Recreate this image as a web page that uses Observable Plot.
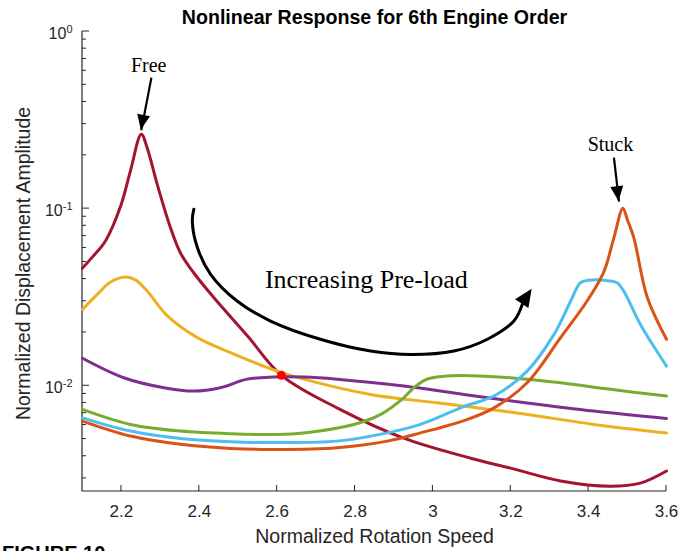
<!DOCTYPE html>
<html><head><meta charset="utf-8">
<script src="https://cdn.jsdelivr.net/npm/d3@7"></script>
<script src="https://cdn.jsdelivr.net/npm/@observablehq/plot@0.6"></script>
<style>
html,body{margin:0;padding:0;overflow:hidden;background:#fff;width:691px;height:551px}
#wrap{position:relative;width:691px;height:551px}
#fig{position:absolute;left:2px;top:543px;font:bold 20px "Liberation Sans",Arial,sans-serif;color:#000;line-height:20px;white-space:nowrap}
</style></head><body><div id="wrap"></div>
<script>
// ---- axis definitions ----
const xDomain = [2.1, 3.6];
const yDomain = [0.00253, 1];
const xTicks = [2.2, 2.4, 2.6, 2.8, 3, 3.2, 3.4, 3.6];
const yMajorTicks = [0.01, 0.1, 1];
const yTickExponents = ["-2", "-1", "0"];
const yMinorTicks = [0.003,0.004,0.005,0.006,0.007,0.008,0.009,
                     0.02,0.03,0.04,0.05,0.06,0.07,0.08,0.09,
                     0.2,0.3,0.4,0.5,0.6,0.7,0.8,0.9];

// ---- series (pre-load cases) ----
const seriesNames = ["Free", "Pre-load 1", "Pre-load 2", "Pre-load 3", "Pre-load 4", "Stuck"];
const seriesColors = ["#A2142F", "#EDB120", "#7E2F8E", "#77AC30", "#4DBEEE", "#D95319"];

const freeX = [2.100,2.128,2.159,2.198,2.223,2.251,2.266,2.292,2.326,2.352,2.385,2.436,2.524,2.611,2.755,2.925,3.097,3.199,3.328,3.456,3.533,3.600];
const freeY = [0.0462,0.0541,0.0657,0.1035,0.163,0.263,0.221,0.137,0.078,0.0560,0.0436,0.0317,0.0191,0.01145,0.00748,0.00506,0.0039,0.00343,0.0029,0.00271,0.00282,0.0033];

const pl1X = [2.100,2.138,2.172,2.210,2.236,2.266,2.318,2.395,2.480,2.600,2.668,2.840,3.011,3.097,3.242,3.413,3.600];
const pl1Y = [0.0270,0.0328,0.0385,0.0411,0.0396,0.0343,0.0248,0.0187,0.0154,0.0121,0.0109,0.00893,0.00801,0.00758,0.00689,0.00605,0.00542];

const pl2X = [2.100,2.206,2.309,2.386,2.454,2.523,2.591,2.668,2.754,2.925,3.084,3.242,3.413,3.600];
const pl2Y = [0.0143,0.0111,0.00975,0.00933,0.00975,0.0109,0.0112,0.0112,0.0109,0.00996,0.0089,0.0080,0.0072,0.00654];

const pl3X = [2.100,2.223,2.352,2.480,2.600,2.668,2.797,2.866,2.925,2.951,2.985,3.037,3.097,3.199,3.328,3.456,3.600];
const pl3Y = [0.00736,0.00605,0.00555,0.00536,0.00531,0.00542,0.00605,0.0069,0.00855,0.00975,0.0109,0.01135,0.0114,0.0111,0.0104,0.00955,0.00875];

const pl4X = [2.100,2.223,2.352,2.480,2.600,2.754,2.883,2.968,3.084,3.157,3.242,3.311,3.354,3.379,3.400,3.450,3.473,3.490,3.533,3.600];
const pl4Y = [0.00659,0.00555,0.00504,0.00483,0.00478,0.00487,0.00542,0.00605,0.0077,0.00875,0.0121,0.0195,0.0301,0.0382,0.0394,0.0392,0.0382,0.0343,0.0222,0.0129];

const stuckX = [2.100,2.223,2.352,2.480,2.600,2.754,2.883,2.968,3.084,3.157,3.242,3.328,3.396,3.439,3.465,3.488,3.500,3.516,3.551,3.600];
const stuckY = [0.00632,0.0052,0.00467,0.00443,0.00437,0.00447,0.00487,0.00542,0.0064,0.0075,0.0104,0.0187,0.0301,0.044,0.0686,0.1005,0.086,0.0686,0.0314,0.0183];

// ---- marker & annotations ----
const markerX = [2.611], markerY = [0.01145];
const labelTexts = ["Free", "Stuck", "Increasing Pre-load"];
const labelX = [2.270, 3.456, 2.829];
const labelY = [0.640, 0.231, 0.0396];
const labelSizes = [20, 20, 26];
// straight arrows (Free, Stuck) and head of the curved arrow
const arrowFromX = [2.277, 3.465, 3.230];
const arrowFromY = [0.549, 0.194, 0.0290];
const arrowTipX = [2.251, 3.478, 3.255];
const arrowTipY = [0.277, 0.1096, 0.0351];
const headLen = [15, 15, 18], headWid = [13, 13, 16];
// curved "increasing pre-load" path
const curveX = [2.386,2.382,2.395,2.429,2.497,2.583,2.711,2.840,2.943,3.054,3.140,3.208,3.230];
const curveY = [0.0993,0.0853,0.0603,0.0426,0.0301,0.0232,0.0183,0.0157,0.0150,0.0157,0.0183,0.0232,0.0290];

const titleText = "Nonlinear Response for 6th Engine Order";
const xLabel = "Normalized Rotation Speed";
const yLabel = "Normalized Displacement Amplitude";

// ---- build tables ----
const seriesXs = [freeX, pl1X, pl2X, pl3X, pl4X, stuckX];
const seriesYs = [freeY, pl1Y, pl2Y, pl3Y, pl4Y, stuckY];
const table = seriesNames.flatMap((s, i) => seriesXs[i].map((x, j) => ({series: s, x, y: seriesYs[i][j]})));
const curveData = curveX.map((x, i) => ({x, y: curveY[i]}));
const axisColor = "#262626";
const sans = "Liberation Sans, Arial, sans-serif";
const serif = "Liberation Serif, Times New Roman, serif";

function axisFrame(index, scales, values, dims) {
  const {x, y} = scales;
  const x0 = dims.marginLeft, x1 = dims.width - dims.marginRight;
  const y0 = dims.marginTop, y1 = dims.height - dims.marginBottom;
  const g = d3.create("svg:g").attr("stroke", axisColor).attr("fill", "none");
  g.append("path").attr("d", `M${x0},${y0}V${y1}H${x1}`).attr("stroke-width", 1.2);
  for (const t of xTicks) g.append("line").attr("x1", x(t)).attr("x2", x(t)).attr("y1", y1).attr("y2", y1 - 6);
  for (const t of yMajorTicks) g.append("line").attr("x1", x0).attr("x2", x0 + 7).attr("y1", y(t)).attr("y2", y(t));
  for (const t of yMinorTicks) g.append("line").attr("x1", x0).attr("x2", x0 + 4).attr("y1", y(t)).attr("y2", y(t));
  return g.node();
}

function arrowHeads(index, scales) {
  const {x, y} = scales;
  const g = d3.create("svg:g").attr("fill", "black");
  arrowTipX.forEach((tx, i) => {
    const px = x(tx), py = y(arrowTipY[i]);
    const fx = x(arrowFromX[i]), fy = y(arrowFromY[i]);
    const dx = px - fx, dy = py - fy, L = Math.hypot(dx, dy);
    const ux = dx / L, uy = dy / L;
    const bx = px - ux * headLen[i], by = py - uy * headLen[i];
    const w = headWid[i] / 2;
    g.append("path").attr("d", `M${px},${py}L${bx - uy * w},${by + ux * w}L${bx + uy * w},${by - ux * w}Z`);
  });
  return g.node();
}

const plot = Plot.plot({
  width: 691, height: 551,
  marginLeft: 82, marginRight: 25, marginTop: 31, marginBottom: 60,
  style: {fontFamily: sans, color: axisColor, background: "white", overflow: "visible"},
  x: {domain: xDomain, label: null},
  y: {type: "log", domain: yDomain, label: null},
  color: {domain: seriesNames, range: seriesColors},
  marks: [
    axisFrame,
    Plot.axisX(xTicks, {tickSize: 0, tickPadding: 13, fontSize: 17, tickFormat: d => String(d)}),
    Plot.axisY(yMajorTicks, {tickSize: 0, tickPadding: 10, fontSize: 16, tickFormat: () => "10", dy: 2}),
    Plot.line(table, {x: "x", y: "y", z: "series", stroke: "series", curve: "catmull-rom", strokeWidth: 3}),
    Plot.dot(markerX, {x: d => d, y: (d, i) => markerY[i], r: 4.5, fill: "#FF0000", stroke: "none"}),
    Plot.line(curveData, {x: "x", y: "y", stroke: "black", strokeWidth: 3, curve: "catmull-rom"}),
    Plot.link([0, 1], {x1: i => arrowFromX[i], y1: i => arrowFromY[i], x2: i => arrowTipX[i], y2: i => arrowTipY[i], stroke: "black", strokeWidth: 2.2}),
    arrowHeads,
    Plot.text(labelTexts, {x: (d, i) => labelX[i], y: (d, i) => labelY[i], text: d => d, fontFamily: serif, fontSize: (d, i) => labelSizes[i], fill: "black"}),
    Plot.text([titleText], {frameAnchor: "top", textAnchor: "middle", lineAnchor: "middle", dy: -14, fontSize: 19.6, fontWeight: "bold", fill: "black"}),
    Plot.text([xLabel], {frameAnchor: "bottom", textAnchor: "middle", lineAnchor: "middle", dy: 45, fontSize: 19.5, fill: axisColor}),
    Plot.text([yLabel], {frameAnchor: "left", textAnchor: "middle", lineAnchor: "middle", rotate: -90, dx: -59, dy: 2, fontSize: 19.5, fill: axisColor})
  ]
});

// superscript exponents on the y tick labels
const ylabels = plot.querySelectorAll('[aria-label="y-axis tick label"] text');
ylabels.forEach((t, i) => {
  const ts = document.createElementNS("http://www.w3.org/2000/svg", "tspan");
  ts.setAttribute("dy", "-0.55em");
  ts.setAttribute("font-size", "11px");
  ts.textContent = yTickExponents[i];
  t.appendChild(ts);
});

const wrap = document.getElementById("wrap");
wrap.appendChild(plot);
const fig = document.createElement("div");
fig.id = "fig";
fig.textContent = "FIGURE 10";
wrap.appendChild(fig);
</script></body></html>
